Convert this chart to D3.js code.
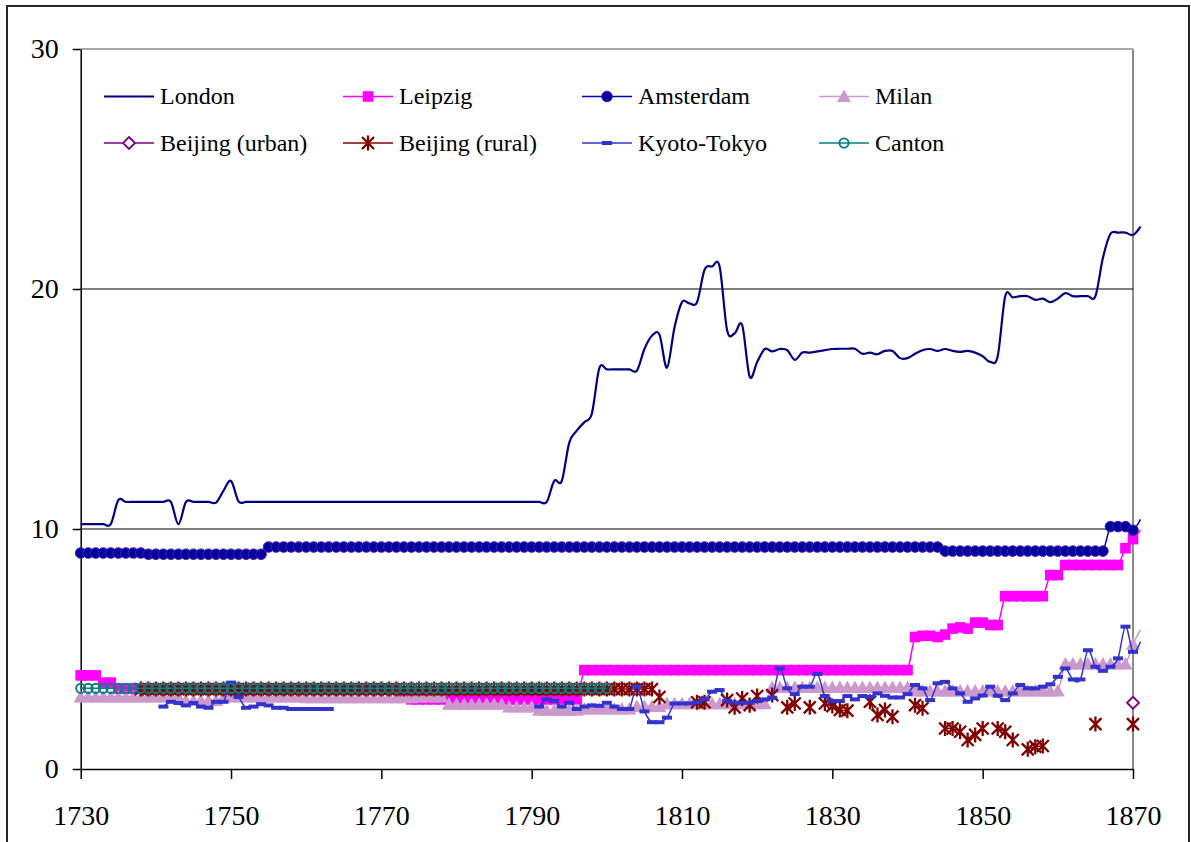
<!DOCTYPE html>
<html>
<head>
<meta charset="utf-8">
<script src="https://cdn.jsdelivr.net/npm/d3@7"></script>
<style>
  html, body { margin: 0; padding: 0; background: #fff; }
  svg { display: block; }
</style>
</head>
<body>
<div id="chart"></div>
<script>
// categories
const years = d3.range(1730, 1872);
const xTicks = [1730, 1750, 1770, 1790, 1810, 1830, 1850, 1870];
const yTicks = [0, 10, 20, 30];
const seriesNames = ["London", "Leipzig", "Amsterdam", "Milan",
  "Beijing (urban)", "Beijing (rural)", "Kyoto-Tokyo", "Canton"];

// London, 1730-1871
const londonStart = 1730;
const london = [
  10.2, 10.2, 10.2, 10.2, 10.2, 11.2, 11.13, 11.13, 11.13, 11.13,
  11.13, 11.13, 11.13, 10.2, 11.13, 11.13, 11.13, 11.13, 11.1, 11.6,
  12.0, 11.15, 11.13, 11.13, 11.13, 11.13, 11.13, 11.13, 11.13, 11.13,
  11.13, 11.13, 11.13, 11.13, 11.13, 11.13, 11.13, 11.13, 11.13, 11.13,
  11.13, 11.13, 11.13, 11.13, 11.13, 11.13, 11.13, 11.13, 11.13, 11.13,
  11.13, 11.13, 11.13, 11.13, 11.13, 11.13, 11.13, 11.13, 11.13, 11.13,
  11.13, 11.13, 11.13, 12.0, 12.0, 13.6, 14.1, 14.45, 14.8, 16.7,
  16.65, 16.65, 16.65, 16.65, 16.6, 17.5, 18.05, 18.1, 16.72, 18.4,
  19.45, 19.4, 19.45, 20.8, 20.94, 20.94, 18.28, 18.15, 18.5, 16.35,
  16.96, 17.5, 17.4, 17.5, 17.45, 17.05, 17.35, 17.35, 17.4, 17.45,
  17.5, 17.51, 17.51, 17.51, 17.3, 17.35, 17.28, 17.42, 17.42, 17.12,
  17.12, 17.3, 17.45, 17.5, 17.42, 17.5, 17.42, 17.38, 17.42, 17.35,
  17.2, 16.96, 17.2, 19.7, 19.65, 19.7, 19.7, 19.55, 19.6, 19.45,
  19.6, 19.83, 19.7, 19.7, 19.7, 19.7, 21.3, 22.3, 22.35, 22.35,
  22.25, 22.6
];

// Leipzig, 1730-1871
const leipzigStart = 1730;
const leipzig = [
  3.9, 3.9, 3.9, 3.6, 3.6, 3.35, 3.35, 3.35, 3.35, 3.35,
  3.35, 3.35, 3.35, 3.35, 3.35, 3.35, 3.35, 3.35, 3.35, 3.35,
  3.35, 3.35, 3.35, 3.35, 3.35, 3.35, 3.35, 3.35, 3.35, 3.35,
  3.35, 3.35, 3.35, 3.35, 3.35, 3.35, 3.35, 3.35, 3.35, 3.35,
  3.35, 3.35, 3.35, 3.1, 2.9, 2.9, 2.9, 2.9, 2.9, 2.9,
  2.9, 2.9, 2.9, 2.9, 2.9, 2.9, 2.9, 2.9, 2.9, 2.9,
  2.9, 2.9, 2.9, 2.9, 2.9, 2.9, 2.9, 4.12, 4.12, 4.12,
  4.12, 4.12, 4.12, 4.12, 4.12, 4.12, 4.12, 4.12, 4.12, 4.12,
  4.12, 4.12, 4.12, 4.12, 4.12, 4.12, 4.12, 4.12, 4.12, 4.12,
  4.12, 4.12, 4.12, 4.12, 4.12, 4.12, 4.12, 4.12, 4.12, 4.12,
  4.12, 4.12, 4.12, 4.12, 4.12, 4.12, 4.12, 4.12, 4.12, 4.12,
  4.12, 5.5, 5.55, 5.55, 5.5, 5.6, 5.85, 5.9, 5.85, 6.1,
  6.1, 6.0, 6.0, 7.2, 7.2, 7.2, 7.2, 7.2, 7.2, 8.08,
  8.08, 8.5, 8.5, 8.5, 8.5, 8.5, 8.5, 8.5, 8.5, 9.2,
  9.58, 9.95
];

// Amsterdam, 1730-1871
const amsterdamStart = 1730;
const amsterdam = [
  9.0, 9.0, 9.0, 9.0, 9.0, 9.0, 9.0, 9.0, 9.0, 8.95,
  8.95, 8.95, 8.95, 8.95, 8.95, 8.95, 8.95, 8.95, 8.95, 8.95,
  8.95, 8.95, 8.95, 8.95, 8.95, 9.25, 9.25, 9.25, 9.25, 9.25,
  9.25, 9.25, 9.25, 9.25, 9.25, 9.25, 9.25, 9.25, 9.25, 9.25,
  9.25, 9.25, 9.25, 9.25, 9.25, 9.25, 9.25, 9.25, 9.25, 9.25,
  9.25, 9.25, 9.25, 9.25, 9.25, 9.25, 9.25, 9.25, 9.25, 9.25,
  9.25, 9.25, 9.25, 9.25, 9.25, 9.25, 9.25, 9.25, 9.25, 9.25,
  9.25, 9.25, 9.25, 9.25, 9.25, 9.25, 9.25, 9.25, 9.25, 9.25,
  9.25, 9.25, 9.25, 9.25, 9.25, 9.25, 9.25, 9.25, 9.25, 9.25,
  9.25, 9.25, 9.25, 9.25, 9.25, 9.25, 9.25, 9.25, 9.25, 9.25,
  9.25, 9.25, 9.25, 9.25, 9.25, 9.25, 9.25, 9.25, 9.25, 9.25,
  9.25, 9.25, 9.25, 9.25, 9.25, 9.08, 9.08, 9.08, 9.08, 9.08,
  9.08, 9.08, 9.08, 9.08, 9.08, 9.08, 9.08, 9.08, 9.08, 9.08,
  9.08, 9.08, 9.08, 9.08, 9.08, 9.08, 9.08, 10.1, 10.1, 10.1,
  9.95, 10.4
];

// Milan, 1730-1871
const milanStart = 1730;
const milan = [
  3.0, 3.0, 3.0, 3.0, 3.0, 3.0, 3.0, 3.0, 3.0, 3.0,
  3.0, 3.0, 3.0, 3.0, 2.85, 2.85, 2.85, 2.85, 2.85, 3.0,
  3.0, 3.0, 3.0, 3.0, 3.0, 3.0, 3.0, 3.0, 3.0, 3.0,
  2.97, 2.97, 2.97, 2.97, 2.97, 2.97, 2.97, 2.97, 2.97, 2.97,
  2.97, 2.97, 2.97, 2.97, 2.97, 3.0, 3.0, 3.0, 3.0, 2.7,
  2.7, 2.7, 2.7, 2.7, 2.7, 2.7, 2.7, 2.58, 2.58, 2.58,
  2.58, 2.45, 2.45, 2.45, 2.45, 2.45, 2.45, 2.5, 2.5, 2.5,
  2.5, 2.5, 2.5, 2.5, 2.6, 2.6, 2.6, 2.6, 2.72, 2.72,
  2.72, 2.72, 2.72, 2.72, 2.72, 2.72, 2.72, 2.72, 2.72, 2.72,
  2.72, 2.72, 3.4, 3.4, 3.4, 3.4, 3.4, 3.4, 3.4, 3.4,
  3.4, 3.4, 3.4, 3.4, 3.4, 3.4, 3.4, 3.4, 3.4, 3.4,
  3.4, 3.25, 3.25, 3.25, 3.25, 3.25, 3.25, 3.25, 3.25, 3.25,
  3.25, 3.25, 3.25, 3.25, 3.25, 3.25, 3.25, 3.25, 3.25, 3.25,
  3.25, 4.37, 4.37, 4.37, 4.37, 4.37, 4.37, 4.37, 4.37, 4.37,
  5.2, 5.8
];

// Beijing (urban), only 1870 is visible
const beijingUrbanStart = 1870;
const beijingUrban = [2.76];

// Beijing (rural), 1738-1870, gaps are null
const beijingRuralStart = 1738;
const beijingRural = [
  3.33, 3.33,
  3.33, 3.33, 3.33, 3.33, 3.33, 3.33, 3.33, 3.33, 3.33, 3.33,
  3.33, 3.33, 3.33, 3.33, 3.33, 3.33, 3.33, 3.33, 3.33, 3.33,
  3.33, 3.33, 3.33, 3.33, 3.33, 3.33, 3.33, 3.33, 3.33, 3.33,
  3.33, 3.33, 3.33, 3.33, 3.33, 3.33, 3.33, 3.33, 3.33, 3.33,
  3.33, 3.33, 3.33, 3.33, 3.33, 3.33, 3.33, 3.33, 3.33, 3.33,
  3.33, 3.33, 3.33, 3.33, 3.33, 3.33, 3.33, 3.33, 3.33, 3.33,
  3.33, 3.33, 3.33, 3.33, 3.33, 3.33, 3.33, 3.0, null, null,
  null, null, 2.78, 2.78, null, null, 2.87, 2.57, 2.94, 2.66,
  3.04, null, 3.08, null, 2.57, 2.73, null, 2.57, null, 2.73,
  2.62, 2.46, 2.43, null, null, 2.8, 2.25, 2.46, 2.18, null,
  null, 2.66, 2.53, null, null, 1.69, 1.69, 1.55, 1.21, 1.42,
  1.69, null, 1.69, 1.55, 1.21, null, 0.82, 0.93, 0.96, null,
  null, null, null, null, null, 1.87, null, null, null, null,
  1.87
];

// Kyoto-Tokyo, 1740-1871, gaps are null
const kyotoStart = 1740;
const kyoto = [
  null, 2.6, 2.8, 2.75, 2.65, 2.75, 2.6, 2.55, 2.8, 2.8,
  3.6, 3.0, 2.55, 2.6, 2.7, 2.65, 2.55, 2.55, 2.5, 2.5,
  2.5, 2.5, 2.5, 2.5, null, null, null, null, null, null,
  null, null, null, null, null, null, null, null, null, null,
  null, null, null, null, null, null, null, null, null, null,
  null, 2.6, 2.9, 2.84, 2.6, 2.76, 2.5, 2.6, 2.65, 2.63,
  2.76, 2.6, 2.5, 2.5, 3.43, 2.4, 1.95, 1.95, 2.14, 2.73,
  2.73, 2.73, 2.78, 2.9, 3.22, 3.29, 2.84, 2.76, 2.76, 2.76,
  2.83, 2.9, 2.97, 4.19, 3.36, 3.12, 3.43, 3.43, 3.96, 3.04,
  2.83, 2.83, 3.04, 2.9, 3.04, 3.0, 3.15, 3.05, 2.98, 2.98,
  3.12, 3.5, 3.36, 2.87, 3.57, 3.63, 3.36, 3.15, 2.8, 2.94,
  3.06, 3.43, 3.05, 2.87, 3.15, 3.5, 3.36, 3.36, 3.43, 3.53,
  3.84, 4.19, 3.73, 3.73, 4.95, 4.26, 4.09, 4.26, 4.61, 5.93,
  4.88, 5.3
];

// Canton, 1730-1800
const cantonStart = 1730;
const canton = [
  3.36, 3.36, 3.36, 3.36, 3.36, 3.36, 3.36, 3.36, 3.36, 3.36,
  3.36, 3.36, 3.36, 3.36, 3.36, 3.36, 3.36, 3.36, 3.36, 3.36,
  3.36, 3.36, 3.36, 3.36, 3.36, 3.36, 3.36, 3.36, 3.36, 3.36,
  3.36, 3.36, 3.36, 3.36, 3.36, 3.36, 3.36, 3.36, 3.36, 3.36,
  3.36, 3.36, 3.36, 3.36, 3.36, 3.36, 3.36, 3.36, 3.36, 3.36,
  3.36, 3.36, 3.36, 3.36, 3.36, 3.36, 3.36, 3.36, 3.36, 3.36,
  3.36, 3.36, 3.36, 3.36, 3.36, 3.36, 3.36, 3.36, 3.36, 3.36,
  3.36
];

const width = 1191, height = 842;
const lastYear = xTicks[xTicks.length - 1];
const serif = '"Liberation Serif"';

const svg = d3.select("#chart").append("svg")
  .attr("width", width)
  .attr("height", height);

const x = d3.scaleLinear().domain([1730, 1870]).range([80.7, 1133]);
const y = d3.scaleLinear().domain([0, 30]).range([769, 49]);

// outer chart frame
svg.append("rect")
  .attr("x", 7).attr("y", 6)
  .attr("width", 1182).attr("height", 870)
  .attr("fill", "none")
  .attr("stroke", "#262626")
  .attr("stroke-width", 2);

// plot area border (top and right, grey)
svg.append("line")
  .attr("x1", x(1730)).attr("x2", x(1870))
  .attr("y1", y(30)).attr("y2", y(30))
  .attr("stroke", "#8c8c8c").attr("stroke-width", 1.5);
svg.append("line")
  .attr("x1", x(1870)).attr("x2", x(1870))
  .attr("y1", y(30)).attr("y2", y(0))
  .attr("stroke", "#8c8c8c").attr("stroke-width", 2);

// gridlines
svg.append("g")
  .selectAll("line")
  .data(yTicks.filter(d => d > 0 && d < 30))
  .enter().append("line")
  .attr("x1", x(1730)).attr("x2", x(1870))
  .attr("y1", d => y(d)).attr("y2", d => y(d))
  .attr("stroke", "#000").attr("stroke-width", 1.2);

// axes
svg.append("g")
  .attr("class", "axis")
  .attr("transform", `translate(0, ${y(0)})`)
  .call(d3.axisBottom(x).tickValues(xTicks).tickFormat(d3.format("d"))
    .tickSize(10).tickSizeOuter(0).tickPadding(26));

svg.append("g")
  .attr("class", "axis")
  .attr("transform", `translate(${x(1730)}, 0)`)
  .call(d3.axisLeft(y).tickValues(yTicks).tickFormat(d3.format("d"))
    .tickSize(8).tickSizeOuter(0).tickPadding(14));

svg.selectAll(".axis path.domain").attr("stroke", "#000").attr("stroke-width", 1.5);
svg.selectAll(".axis .tick line").attr("stroke", "#000").attr("stroke-width", 1.5);
svg.selectAll(".axis").attr("font-family", null).attr("font-size", null);
svg.selectAll(".axis text")
  .style("font-family", serif)
  .style("font-size", "28px")
  .attr("fill", "#000");

// marker shapes
const markerPaths = {
  square: "M-5.3,-5.3H5.3V5.3H-5.3Z",
  circle: d3.symbol(d3.symbolCircle, Math.PI * 5.3 * 5.3)(),
  triangle: "M0,-7L7,5.5L-7,5.5Z",
  diamond: "M0,-6L6,0L0,6L-6,0Z",
  star: "M-6,-6L6,6M6,-6L-6,6M0,-7.5V7.5",
  dash: "M-5,-2H5V2H-5Z",
  ring: d3.symbol(d3.symbolCircle, Math.PI * 4.6 * 4.6)()
};

const series = [
  {name: seriesNames[0], start: londonStart, values: london, color: "#000080", lw: 2.2,
    marker: null},
  {name: seriesNames[1], start: leipzigStart, values: leipzig, color: "#ff00ff", lw: 1.5,
    marker: "square", fill: "#ff00ff", stroke: "#ff00ff", sw: 0},
  {name: seriesNames[2], start: amsterdamStart, values: amsterdam, color: "#0000cc", lw: 1.5,
    marker: "circle", fill: "#0000a0", stroke: "#4a1aa8", sw: 1},
  {name: seriesNames[3], start: milanStart, values: milan, color: "#cc99cc", lw: 1.5,
    marker: "triangle", fill: "#cc99cc", stroke: "#cc99cc", sw: 0},
  {name: seriesNames[4], start: beijingUrbanStart, values: beijingUrban, color: "#800080", lw: 1.5,
    marker: "diamond", fill: "#fff", stroke: "#800080", sw: 1.8},
  {name: seriesNames[5], start: beijingRuralStart, values: beijingRural, color: "#800000", lw: 1.5,
    marker: "star", fill: "none", stroke: "#800000", sw: 2.3},
  {name: seriesNames[6], start: kyotoStart, values: kyoto, color: "#3333cc", lw: 1.5,
    marker: "dash", fill: "#3333cc", stroke: "#3333cc", sw: 0},
  {name: seriesNames[7], start: cantonStart, values: canton, color: "#008080", lw: 1.5,
    marker: "ring", fill: "none", stroke: "#008080", sw: 1.9}
];

const line = d3.line()
  .defined(d => d.value != null)
  .x(d => x(d.year))
  .y(d => y(d.value))
  .curve(d3.curveCatmullRom.alpha(0));

function styleMarker(sel, s) {
  sel.attr("d", markerPaths[s.marker])
    .attr("fill", s.fill)
    .attr("stroke", s.sw > 0 ? s.stroke : "none")
    .attr("stroke-width", s.sw);
}

const plot = svg.append("g").attr("class", "series");

series.forEach(s => {
  const points = s.values.map((v, i) => ({year: s.start + i, value: v}));
  const g = plot.append("g");

  g.append("path")
    .datum(points)
    .attr("fill", "none")
    .attr("stroke", s.color)
    .attr("stroke-width", s.lw)
    .attr("stroke-linejoin", "round")
    .attr("d", line);

  if (s.marker) {
    g.selectAll("path.m")
      .data(points.filter(d => d.value != null && d.year <= lastYear))
      .enter().append("path")
      .attr("class", "m")
      .attr("transform", d => `translate(${x(d.year)},${y(d.value)})`)
      .call(styleMarker, s);
  }
});

// legend
const legendCols = [104, 343, 582, 819];
const legendRows = [96.5, 143];

const legend = svg.append("g")
  .attr("class", "legend")
  .selectAll("g")
  .data(series)
  .enter().append("g")
  .attr("transform", (d, i) => `translate(${legendCols[i % 4]}, ${legendRows[Math.floor(i / 4)]})`);

legend.append("line")
  .attr("x1", 0).attr("x2", 50)
  .attr("y1", 0).attr("y2", 0)
  .attr("stroke", d => d.color)
  .attr("stroke-width", d => d.lw);

legend.filter(d => d.marker)
  .append("path")
  .attr("transform", "translate(25,0)")
  .each(function (d) { d3.select(this).call(styleMarker, d); });

legend.append("text")
  .attr("x", 56)
  .attr("y", 7.5)
  .style("font-family", serif)
  .style("font-size", "24px")
  .attr("fill", "#000")
  .text(d => d.name);
</script>
</body>
</html>
